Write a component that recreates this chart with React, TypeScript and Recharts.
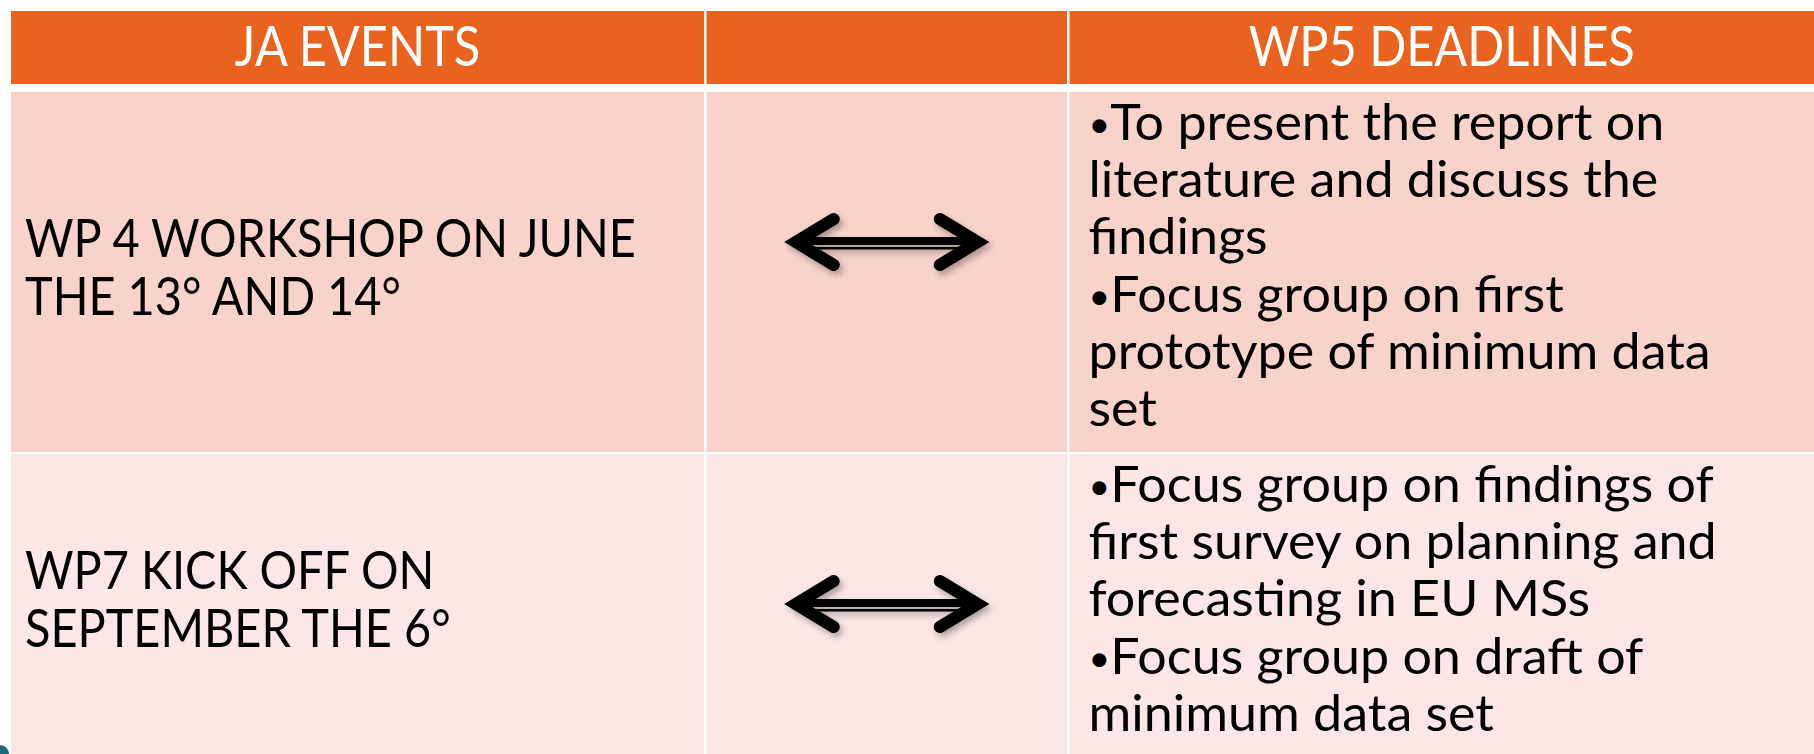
import { ComposedChart, ReferenceArea, ReferenceDot, XAxis, YAxis } from "recharts"

// table content
const headers = ["JA EVENTS", "", "WP5 DEADLINES"]

const events = [
  ["WP 4 WORKSHOP ON JUNE", "THE 13° AND 14°"],
  ["WP7 KICK OFF ON", "SEPTEMBER THE 6°"],
]

const deadlines = [
  [
    "•To present the report on",
    "literature and discuss the",
    "findings",
    "•Focus group on first",
    "prototype of minimum data",
    "set",
  ],
  [
    "•Focus group on findings of",
    "first survey on planning and",
    "forecasting in EU MSs",
    "•Focus group on draft of",
    "minimum data set",
  ],
]

// each body row links its event to its deadlines with a double arrow
const links = ["both", "both"]

// layout (chart units = pixels)
const W = 1814
const H = 754
const COLS = [
  { x1: 11, x2: 704 },
  { x1: 706.5, x2: 1067 },
  { x1: 1069.5, x2: W },
]
const HEADER = { y1: 11, y2: 84 }
const BODY_ROWS = [
  { y1: 92, y2: 452, fill: "#f7d3cc" },
  { y1: 454, y2: H, fill: "#fbe8e6" },
]

const FONT = "Lato, 'Open Sans', sans-serif"

// condensed text block: lines drawn at (0, i*lh) then squeezed horizontally
function Lines({ x, y, lines, size, lh, sx, anchor = "start", fill = "#000" }: any) {
  return (
    <g transform={`translate(${x} ${y}) scale(${sx} 1)`}>
      <text fontFamily={FONT} fontSize={size} fill={fill} textAnchor={anchor}>
        {lines.map((l: string, i: number) =>
          l.startsWith("•") ? (
            <tspan key={i} x={0} y={i * lh}>
              <tspan fontSize={size * 0.72} dy={-size * 0.06}>•</tspan>
              <tspan dy={size * 0.06}>{l.slice(1)}</tspan>
            </tspan>
          ) : (
            <tspan key={i} x={0} y={i * lh}>
              {l}
            </tspan>
          )
        )}
      </text>
    </g>
  )
}

function HeaderCell(props: any) {
  const { x, y, width, height, text } = props
  return (
    <g>
      <rect x={x} y={y} width={width} height={height} fill="#e9631e" />
      {text ? (
        <Lines x={x + width / 2} y={y + 55} lines={[text]} size={56} lh={0} sx={0.87} anchor="middle" fill="#fff" />
      ) : null}
    </g>
  )
}

function EventCell(props: any) {
  const { x, y, width, height, fill, lines } = props
  const lh = 59
  const mid = y + Math.min(height, H - y) / 2
  const first = mid - ((lines.length - 1) * lh) / 2 + 14
  return (
    <g>
      <rect x={x} y={y} width={width} height={height} fill={fill} />
      <Lines x={x + 14} y={first} lines={lines} size={53} lh={lh} sx={0.885} />
    </g>
  )
}

function LinkCell(props: any) {
  const { x, y, width, height, fill, kind } = props
  const cx = x + width / 2
  const cy = y + 150
  const arm = (s: number) =>
    `M ${cx + s * 53} ${cy - 23} L ${cx + s * 91} ${cy} L ${cx + s * 53} ${cy + 23}`
  return (
    <g>
      <rect x={x} y={y} width={width} height={height} fill={fill} />
      {kind === "both" ? (
        <g filter="url(#arrowShadow)">
          <rect x={cx - 82} y={cy - 5} width={162} height={8} fill="#000" />
          <rect x={cx - 82} y={cy + 5} width={162} height={2.5} fill="#000" />
          {[-1, 1].map((s) => (
            <path
              key={s}
              d={arm(s)}
              fill="none"
              stroke="#000"
              strokeWidth={12}
              strokeLinecap="round"
              strokeLinejoin="miter"
            />
          ))}
        </g>
      ) : null}
    </g>
  )
}

function DeadlineCell(props: any) {
  const { x, y, width, height, fill, lines } = props
  return (
    <g>
      <rect x={x} y={y} width={width} height={height} fill={fill} />
      <Lines x={x + 19} y={y + 48} lines={lines} size={51} lh={57.2} sx={1.02} />
    </g>
  )
}

export default function App() {
  return (
    <div style={{ position: "fixed", left: 0, top: 0, background: "#fff" }}>
      <ComposedChart width={W} height={H} data={[{}]} margin={{ top: 0, right: 0, bottom: 0, left: 0 }}>
        <defs>
          <filter id="arrowShadow" x="-20%" y="-50%" width="140%" height="200%">
            <feDropShadow dx={3} dy={4} stdDeviation={3} floodColor="#000" floodOpacity={0.3} />
          </filter>
        </defs>
        <XAxis type="number" dataKey="x" domain={[0, W]} hide allowDataOverflow />
        <YAxis type="number" dataKey="y" domain={[0, H]} reversed hide allowDataOverflow />

        {headers.map((h, c) => (
          <ReferenceArea
            key={`h${c}`}
            x1={COLS[c].x1}
            x2={COLS[c].x2}
            y1={HEADER.y1}
            y2={HEADER.y2}
            ifOverflow="visible"
            shape={(p: any) => <HeaderCell {...p} text={h} />}
          />
        ))}

        {events.map((lines, r) => (
          <ReferenceArea
            key={`e${r}`}
            x1={COLS[0].x1}
            x2={COLS[0].x2}
            y1={BODY_ROWS[r].y1}
            y2={BODY_ROWS[r].y2}
            ifOverflow="visible"
            shape={(p: any) => <EventCell {...p} fill={BODY_ROWS[r].fill} lines={lines} />}
          />
        ))}

        {links.map((kind, r) => (
          <ReferenceArea
            key={`l${r}`}
            x1={COLS[1].x1}
            x2={COLS[1].x2}
            y1={BODY_ROWS[r].y1}
            y2={BODY_ROWS[r].y2}
            ifOverflow="visible"
            shape={(p: any) => <LinkCell {...p} fill={BODY_ROWS[r].fill} kind={kind} />}
          />
        ))}

        {deadlines.map((lines, r) => (
          <ReferenceArea
            key={`d${r}`}
            x1={COLS[2].x1}
            x2={COLS[2].x2}
            y1={BODY_ROWS[r].y1}
            y2={BODY_ROWS[r].y2}
            ifOverflow="visible"
            shape={(p: any) => <DeadlineCell {...p} fill={BODY_ROWS[r].fill} lines={lines} />}
          />
        ))}

        <ReferenceDot x={0} y={H} r={9} fill="#1d6b78" stroke="none" ifOverflow="visible" />
      </ComposedChart>
    </div>
  )
}
